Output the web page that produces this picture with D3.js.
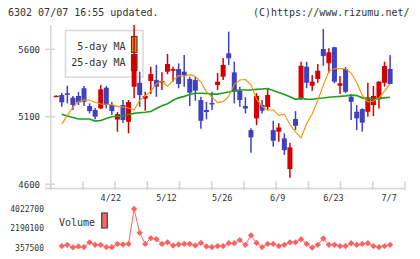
<!DOCTYPE html>
<html><head><meta charset="utf-8">
<script src="https://cdn.jsdelivr.net/npm/d3@7"></script>
<style>
body{margin:0;background:#fff}
svg{display:block}
text{font-family:"DejaVu Sans Mono",monospace;fill:#333}
</style>
</head><body><svg id="c" width="420" height="259"></svg>
<script>
// ---- data ----
const dates = ["4/8","4/11","4/12","4/13","4/14","4/15","4/18","4/19","4/20","4/21",
  "4/22","4/25","4/26","4/27","4/28","5/2","5/6","5/9","5/10","5/11",
  "5/12","5/13","5/16","5/17","5/18","5/19","5/20","5/23","5/24","5/25",
  "5/26","5/27","5/30","5/31","6/1","6/2","6/3","6/6","6/7","6/8",
  "6/9","6/10","6/13","6/14","6/15","6/16","6/17","6/20","6/21","6/22",
  "6/23","6/24","6/27","6/28","6/29","6/30","7/1","7/4","7/5","7/6","7/7"];
const opens = [5255,5261,5274,5241,5254,5311,5179,5150,5162,5315,
  5187,5079,5187,5063,5323,5352,5234,5365,5372,5352,
  5434,5441,5454,5434,5380,5372,5224,5150,5202,5335,
  5397,5570,5429,5291,5179,5001,5088,5187,5172,5001,
  4989,4940,4712,5083,5237,5471,5330,5380,5602,5496,
  5615,5330,5454,5248,5137,5157,5137,5187,5229,5352,5454];
const highs = [5257,5276,5330,5254,5283,5328,5199,5165,5335,5328,
  5209,5135,5224,5224,5780,5434,5285,5471,5484,5429,
  5565,5471,5496,5558,5397,5397,5248,5211,5285,5424,
  5535,5731,5508,5323,5244,5014,5274,5224,5311,5070,
  5051,4977,4907,5142,5508,5508,5409,5491,5751,5607,
  5619,5402,5469,5268,5187,5162,5352,5328,5365,5508,5558];
const lows = [5254,5174,5199,5150,5187,5179,5125,5081,5157,5162,
  5113,4989,5053,4977,5237,5174,5145,5268,5248,5298,
  5415,5360,5311,5323,5179,5219,5011,5081,5150,5298,
  5372,5484,5199,5174,5125,4833,5038,5125,5150,4877,
  4915,4816,4648,5001,5224,5311,5293,5352,5478,5422,
  5348,5268,5276,5076,5001,4989,5100,5105,5162,5323,5343];
const closes = [5256,5207,5262,5187,5207,5211,5142,5100,5303,5187,
  5142,5120,5076,5209,5558,5261,5254,5417,5323,5365,
  5491,5454,5343,5409,5278,5293,5070,5135,5194,5360,
  5484,5533,5285,5224,5161,4947,5254,5145,5261,4922,
  5021,4853,4873,5033,5478,5352,5360,5441,5550,5578,
  5360,5348,5285,5211,5088,5056,5244,5254,5360,5476,5343];
// series below start at the second date (dates[1])
const ma5 = [5045,5110,5172,5212,5226,5222,5208,5195,5193,
  5189,5177,5172,5165,5152,5221,5255,5290,5345,5363,
  5326,5368,5405,5400,5412,5398,5357,5285,5245,5205,
  5212,5250,5341,5372,5376,5337,5232,5176,5148,5152,
  5110,5118,5042,4988,4942,5050,5120,5220,5334,5437,
  5457,5458,5455,5424,5354,5258,5210,5215,5240,5290,5345];
const ma25 = [5118,5105,5094,5083,5083,5083,5068,5072,5087,
  5100,5104,5107,5116,5125,5130,5133,5139,5161,5182,
  5197,5222,5240,5251,5265,5274,5274,5272,5268,5268,
  5276,5283,5291,5298,5298,5298,5303,5306,5309,5294,
  5280,5265,5248,5229,5236,5231,5230,5235,5239,5244,
  5248,5251,5255,5260,5257,5240,5231,5230,5235,5240,5244];
const volume = [507700,627900,380000,477700,417600,868200,627900,620000,417600,
  410000,718000,657900,718000,4022700,1769500,718000,1258800,1168700,718000,
  868200,567800,657900,718000,718000,567800,808100,477700,417600,507700,
  507700,778100,778100,1078500,627900,1529200,808100,417600,718000,718000,
  507700,627900,868200,868200,1168700,718000,357500,627900,1228700,627900,
  627900,507700,507700,778100,627900,718000,778100,507700,417600,507700,627900];
const priceTicks = [4600,5100,5600];
const volTicks = [357500,2190100,4022700];
const dateLabels = ["4/22","5/12","5/26","6/9","6/23","7/7"];
const legendNames = ["5-day MA","25-day MA"];

// ---- drawing ----
const svg = d3.select("#c");
svg.append("rect").attr("width",420).attr("height",259).attr("fill","#fff");

const x = d3.scalePoint().domain(dates).range([56.2, 390.1]);
const y = d3.scaleLinear().domain([4600, 5600]).range([184.2, 49.3]);
const yv = d3.scaleLinear().domain([357500, 4022700]).range([247.7, 209]);
const grid = d3.scaleLinear().domain([0, 11]).range([50.7, 405]);

const axisCol = "#d4d4d4";
const RED = "#d40000", BLUE = "#4040c0", ORANGE = "#f39200", GREEN = "#1f9f1f", VOL = "#ff6262";

// header
svg.append("text").attr("x", 8).attr("y", 16).attr("font-size", 10).text("6302 07/07 16:55 updated.");
svg.append("text").attr("x", 409.5).attr("y", 16).attr("font-size", 10).attr("text-anchor","end").text("(C)https://www.rizumu.net/");

// axes
svg.append("line").attr("x1", 50.7).attr("x2", 50.7).attr("y1", 25).attr("y2", 190)
  .attr("stroke", axisCol).attr("stroke-width", 1.5);
svg.append("line").attr("x1", 45).attr("x2", 405.5).attr("y1", 188.5).attr("y2", 188.5)
  .attr("stroke", axisCol).attr("stroke-width", 1.5);
svg.selectAll(".gt").data(d3.range(12)).join("line")
  .attr("x1", d => grid(d)).attr("x2", d => grid(d)).attr("y1", 181).attr("y2", 190)
  .attr("stroke", axisCol).attr("stroke-width", 1.5);

const yAxis = d3.axisLeft(y).tickValues(priceTicks).tickSize(0).tickPadding(0).tickFormat(d3.format("d"));
const ya = svg.append("g").attr("transform","translate(40,0)").call(yAxis);
ya.select(".domain").remove();
ya.selectAll("text").attr("font-family","DejaVu Sans Mono, monospace").attr("font-size", 9).attr("fill","#333");
svg.selectAll(".yt").data(priceTicks).join("line")
  .attr("x1", 45).attr("x2", 55).attr("y1", d => y(d)).attr("y2", d => y(d))
  .attr("stroke", axisCol).attr("stroke-width", 1.5);

// date labels
svg.selectAll(".dl").data(dateLabels).join("text")
  .attr("x", d => x(d) - 1).attr("y", 201).attr("font-size", 8.5).attr("text-anchor","middle").text(d => d);

// legend
svg.append("rect").attr("x", 65.5).attr("y", 30.5).attr("width", 77.5).attr("height", 46.5)
  .attr("fill","#fff").attr("stroke","#d8d8d8").attr("stroke-width", 1.5);
svg.selectAll(".lt").data(legendNames).join("text")
  .attr("x", 125.5).attr("y", (d,i) => 49.5 + i*16.5).attr("font-size", 10).attr("text-anchor","end").text(d => d);
svg.selectAll(".ls").data([ORANGE, GREEN]).join("rect")
  .attr("x", 131.5).attr("y", (d,i) => 36.5 + i*18).attr("width", 5.5).attr("height", 16)
  .attr("fill", d => d).attr("stroke","#444").attr("stroke-width", 1.2);

// candles
const idx = d3.range(dates.length);
const up = i => closes[i] >= opens[i];
svg.selectAll(".wick").data(idx).join("line")
  .attr("x1", i => x(dates[i])).attr("x2", i => x(dates[i]))
  .attr("y1", i => y(highs[i])).attr("y2", i => y(lows[i]))
  .attr("stroke", i => up(i) ? RED : BLUE).attr("stroke-width", 1.5);
svg.selectAll(".body").data(idx).join("rect")
  .attr("x", i => x(dates[i]) - 2.5).attr("width", 5)
  .attr("y", i => y(Math.max(opens[i], closes[i])))
  .attr("height", i => Math.max(1.5, Math.abs(y(opens[i]) - y(closes[i]))))
  .attr("fill", i => up(i) ? RED : BLUE);

// moving averages
const mdates = dates.slice(1);
const line = d3.line().x(d => x(d[0])).y(d => y(d[1]));
svg.append("path").datum(mdates.map((d,i) => [d, ma25[i]])).attr("d", line)
  .attr("fill","none").attr("stroke", GREEN).attr("stroke-width", 1.6);
svg.append("path").datum(mdates.map((d,i) => [d, ma5[i]])).attr("d", line)
  .attr("fill","none").attr("stroke", ORANGE).attr("stroke-width", 1.1);

// volume
const vyAxis = d3.axisLeft(yv).tickValues(volTicks).tickSize(0).tickPadding(0).tickFormat(d3.format("d"));
const va = svg.append("g").attr("transform","translate(44,0)").call(vyAxis);
va.select(".domain").remove();
va.selectAll("text").attr("font-family","DejaVu Sans Mono, monospace").attr("font-size", 8).attr("fill","#333");

svg.append("text").attr("x", 59).attr("y", 226).attr("font-size", 10).text("Volume");
svg.append("rect").attr("x", 101.7).attr("y", 213).attr("width", 5.6).attr("height", 15)
  .attr("fill", VOL).attr("stroke","#444").attr("stroke-width", 1.2);

const vline = d3.line().x(d => x(d[0])).y(d => yv(d[1]));
const vdata = mdates.map((d,i) => [d, volume[i]]);
svg.append("path").datum(vdata).attr("d", vline).attr("fill","none").attr("stroke", VOL).attr("stroke-width", 1);
const diamond = d3.symbol().type(d3.symbolSquare).size(20);
svg.selectAll(".vd").data(vdata).join("path")
  .attr("d", diamond)
  .attr("transform", d => `translate(${x(d[0])},${yv(d[1])}) rotate(45)`)
  .attr("fill", VOL);
</script></body></html>
